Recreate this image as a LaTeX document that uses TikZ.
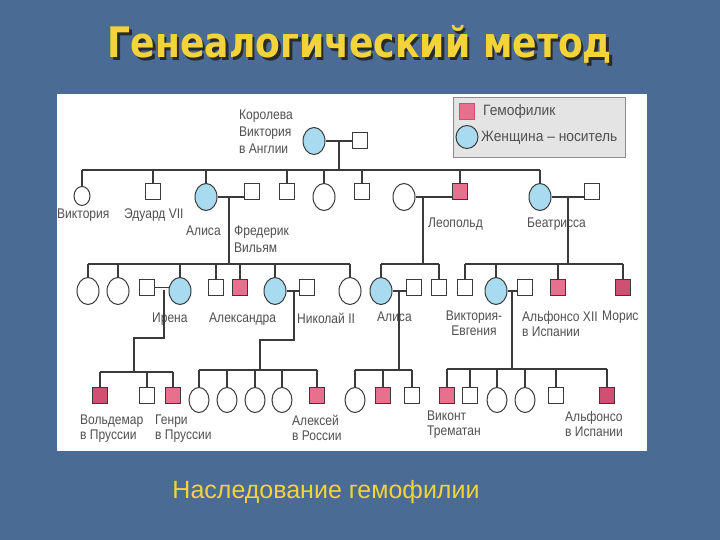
\documentclass[tikz,border=0pt]{standalone}
\usepackage{fontspec}
\usetikzlibrary{shapes.geometric,calc}
\setmainfont{Liberation Sans}
\newfontfamily\lblf{Liberation Sans}[FakeStretch=0.86]
\newfontfamily\legf{Liberation Sans}[FakeStretch=0.92]
\newfontfamily\titf{DejaVu Sans}[FakeStretch=0.86]
\definecolor{bgc}{HTML}{4A6B94}
\definecolor{linec}{HTML}{3A3A3A}
\definecolor{hpink}{HTML}{E8708F}
\definecolor{hpinkd}{HTML}{D24F74}
\definecolor{cblue}{HTML}{A9DBF0}
\definecolor{txtc}{HTML}{505050}
\definecolor{ylw}{HTML}{F3D33A}
\definecolor{legc}{HTML}{E4E4E4}
\definecolor{shd}{HTML}{2A2A2A}
\tikzset{
 ln/.style={draw=linec, line width=1.1pt},
 sq/.style={rectangle, draw=linec, line width=1pt, fill=white, minimum width=15pt, minimum height=16pt, inner sep=0pt},
 hemo/.style={sq, fill=hpink},
 hemod/.style={sq, fill=hpinkd},
 fem/.style={ellipse, draw=linec, line width=1pt, fill=white, minimum width=22pt, minimum height=27pt, inner sep=0pt},
 femsm/.style={fem, minimum width=20pt, minimum height=25pt},
 carr/.style={fem, fill=cblue},
 lbl/.style={font=\lblf\fontsize{14}{15}\selectfont, text=txtc, inner sep=0pt, align=left, anchor=north west},
 legt/.style={font=\legf\fontsize{15}{17}\selectfont, text=txtc, inner sep=0pt, anchor=west},
 ttl/.style={font=\titf\bfseries\fontsize{42}{46}\selectfont, inner sep=0pt},
}
\newcommand{\titletext}{Генеалогический метод}
\begin{document}
\begin{tikzpicture}[x=1pt,y=-1pt]
\useasboundingbox (0,0) rectangle (720,540);
\fill[bgc] (0,0) rectangle (720,540);
\fill[white] (57,94) rectangle (647,451);
% title with shadow inside one node
\node[ttl] (tit) at (360,46) {\makebox[0pt][l]{\kern2.5pt\raisebox{-2.5pt}{\textcolor{shd}{\titletext}}}\textcolor{ylw}{\titletext}};
\node[font=\fontsize{25}{28}\selectfont, text=ylw, inner sep=0pt] (sub) at (326,492) {Наследование гемофилии};
% legend
\node[draw=black!45, fill=legc, minimum width=172pt, minimum height=60pt, inner sep=0pt] (leg) at (539,127) {};
\node[hemo, draw=hpinkd] (lgh) at (467,112) {};
\node[carr, minimum width=22pt, minimum height=23pt] (lgc) at (467,137) {};
\node[legt] (lght) at (483,112) {Гемофилик};
\node[legt] (lgct) at (481,138) {Женщина – носитель};
% generation 1
\node[carr] (qv) at (314,141) {};
\node[sq] (alb) at (360,141) {};
\node[lbl] (qvt) at (239,110) {Королева\\[2pt]Виктория\\[2pt]в Англии};
\coordinate (m1) at (339,141);
\coordinate (s1) at (339,170);
\draw[ln] (qv.east) -- (alb.west);
\draw[ln] (m1) -- (s1);
% generation 2
\node[femsm, minimum width=16pt, minimum height=19pt, anchor=north] (vic2) at (82,186) {};
\node[sq, anchor=north] (edw) at (153,183) {};
\node[carr, anchor=north] (alice) at (206,183) {};
\node[sq, anchor=north] (fw) at (252,183) {};
\node[sq, anchor=north] (g2a) at (287,183) {};
\node[fem, anchor=north] (g2b) at (324,183) {};
\node[sq, anchor=north] (g2c) at (362,183) {};
\node[fem, anchor=north] (lwife) at (404,183) {};
\node[hemo, anchor=north] (leo) at (460,183) {};
\node[carr, anchor=north] (bea) at (540,183) {};
\node[sq, anchor=north] (beah) at (592,183) {};
\foreach \n in {vic2,edw,alice,g2a,g2b,g2c,leo,bea} \draw[ln] (\n.north) -- (\n.north |- s1);
\draw[ln] (vic2.north |- s1) -- (bea.north |- s1);
\node[lbl] (t1) at (57,209) {Виктория};
\node[lbl] (t2) at (124,209) {Эдуард VII};
\node[lbl] (t3) at (186,226) {Алиса};
\node[lbl] (t4) at (234,226) {Фредерик\\[2pt]Вильям};
\node[lbl] (t5) at (428,218) {Леопольд};
\node[lbl] (t6) at (527,218) {Беатрисса};
% marriages gen 2
\coordinate (m2) at (229,197);
\coordinate (s2) at (229,264);
\draw[ln] (alice.east) -- (alice.east -| fw.west);
\draw[ln] (m2) -- (s2);
\coordinate (m3) at (423,197);
\coordinate (s3) at (423,264);
\draw[ln] (lwife.east) -- (lwife.east -| leo.west);
\draw[ln] (m3) -- (s3);
\coordinate (m4) at (568,197);
\coordinate (s4) at (568,264);
\draw[ln] (bea.east) -- (bea.east -| beah.west);
\draw[ln] (m4) -- (s4);
% generation 3
\node[fem, anchor=north] (c1) at (88,277) {};
\node[fem, anchor=north] (c2) at (118,277) {};
\node[sq, anchor=north] (irh) at (147,279) {};
\node[carr, anchor=north] (irene) at (180,277) {};
\node[sq, anchor=north] (g3a) at (216,279) {};
\node[hemo, anchor=north] (g3b) at (240,279) {};
\node[carr, anchor=north] (alex) at (275,277) {};
\node[sq, anchor=north] (nich) at (307,279) {};
\node[fem, anchor=north] (g3c) at (350,277) {};
\node[carr, anchor=north] (alice2) at (381,277) {};
\node[sq, anchor=north] (al2h) at (414,279) {};
\node[sq, anchor=north] (g3d) at (439,279) {};
\node[sq, anchor=north] (g3e) at (465,279) {};
\node[carr, anchor=north] (ve) at (496,277) {};
\node[sq, anchor=north] (veh) at (525,279) {};
\node[hemo, anchor=north] (g3f) at (558,279) {};
\node[hemod, anchor=north] (mor) at (623,279) {};
\coordinate (s2y) at (0,264);
\foreach \n in {c1,c2,irene,g3a,g3b,alex,g3c,alice2,g3d,g3e,ve,g3f,mor} \draw[ln] (\n.north) -- (\n.north |- s2y);
\draw[ln] (c1.north |- s2y) -- (g3c.north |- s2y);
\draw[ln] (alice2.north |- s2y) -- (g3d.north |- s2y);
\draw[ln] (g3e.north |- s2y) -- (mor.north |- s2y);
\node[lbl] (t7) at (152,313) {Ирена};
\node[lbl] (t8) at (209,313) {Александра};
\node[lbl] (t9) at (297,313) {Николай II};
\node[lbl] (t10) at (377,312) {Алиса};
\node[lbl, align=center, anchor=north] (t11) at (474,311) {Виктория-\\Евгения};
\node[lbl] (t12) at (522,311) {Альфонсо XII\\в Испании};
\node[lbl] (t13) at (602,311) {Морис};
% marriages gen 3
\draw[ln] (irh.east) -- (irh.east -| irene.west);
\coordinate (m5) at (164,290);
\coordinate (k5a) at (164,338);
\coordinate (k5b) at (134,338);
\coordinate (s5) at (134,372);
\draw[ln] (m5) -- (k5a) -- (k5b) -- (s5);
\draw[ln] (alex.east) -- (alex.east -| nich.west);
\coordinate (m6) at (294,290);
\coordinate (k6a) at (294,340);
\coordinate (k6b) at (260,340);
\coordinate (s6) at (260,370);
\draw[ln] (m6) -- (k6a) -- (k6b) -- (s6);
\draw[ln] (alice2.east) -- (alice2.east -| al2h.west);
\coordinate (m7) at (399,290);
\coordinate (s7) at (399,370);
\draw[ln] (m7) -- (s7);
\draw[ln] (ve.east) -- (ve.east -| veh.west);
\coordinate (m8) at (512,290);
\coordinate (s8) at (512,369);
\draw[ln] (m8) -- (s8);
% generation 4
\node[hemod, anchor=north] (vold) at (100,387) {};
\node[sq, anchor=north] (g4a) at (147,387) {};
\node[hemo, anchor=north] (henry) at (173,387) {};
\node[femsm, anchor=north] (d1) at (199,387) {};
\node[femsm, anchor=north] (d2) at (227,387) {};
\node[femsm, anchor=north] (d3) at (255,387) {};
\node[femsm, anchor=north] (d4) at (282,387) {};
\node[hemo, anchor=north] (alexei) at (317,387) {};
\node[femsm, anchor=north] (g4b) at (355,387) {};
\node[hemo, anchor=north] (g4c) at (383,387) {};
\node[sq, anchor=north] (g4d) at (412,387) {};
\node[hemo, anchor=north] (visc) at (447,387) {};
\node[sq, anchor=north] (g4e) at (470,387) {};
\node[femsm, anchor=north] (g4f) at (497,387) {};
\node[femsm, anchor=north] (g4g) at (525,387) {};
\node[sq, anchor=north] (g4h) at (556,387) {};
\node[hemod, anchor=north] (alf) at (607,387) {};
\foreach \n in {vold,g4a,henry} \draw[ln] (\n.north) -- (\n.north |- s5);
\draw[ln] (vold.north |- s5) -- (henry.north |- s5);
\foreach \n in {d1,d2,d3,d4,alexei} \draw[ln] (\n.north) -- (\n.north |- s6);
\draw[ln] (d1.north |- s6) -- (alexei.north |- s6);
\foreach \n in {g4b,g4c,g4d} \draw[ln] (\n.north) -- (\n.north |- s7);
\draw[ln] (g4b.north |- s7) -- (g4d.north |- s7);
\foreach \n in {visc,g4e,g4f,g4g,g4h,alf} \draw[ln] (\n.north) -- (\n.north |- s8);
\draw[ln] (visc.north |- s8) -- (alf.north |- s8);
\node[lbl] (t14) at (80,415) {Вольдемар\\в Пруссии};
\node[lbl] (t15) at (155,415) {Генри\\в Пруссии};
\node[lbl] (t16) at (292,415) {Алексей\\в России};
\node[lbl] (t17) at (427,411) {Виконт\\Трематан};
\node[lbl] (t18) at (565,411) {Альфонсо\\в Испании};
\end{tikzpicture}
\end{document}
